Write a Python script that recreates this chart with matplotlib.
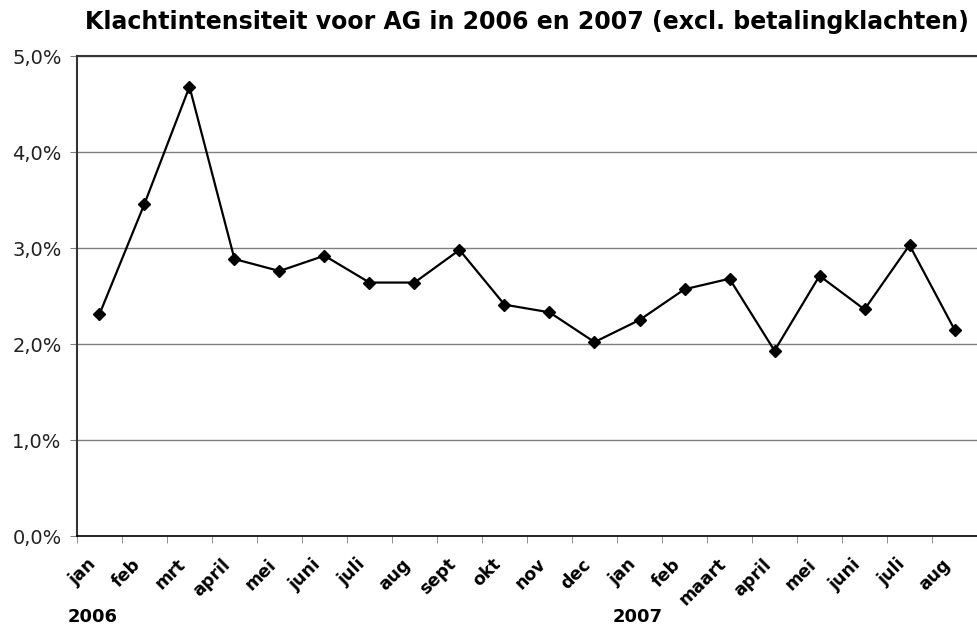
import numpy as np
import matplotlib.pyplot as plt
from matplotlib.ticker import FuncFormatter, FixedLocator

months = ['jan', 'feb', 'mrt', 'april', 'mei', 'juni', 'juli', 'aug', 'sept', 'okt', 'nov', 'dec',
          'jan', 'feb', 'maart', 'april', 'mei', 'juni', 'juli', 'aug']
intensity = [2.31, 3.46, 4.68, 2.885, 2.76, 2.92, 2.64, 2.64, 2.98, 2.41, 2.33, 2.02,
             2.25, 2.57, 2.68, 1.93, 2.71, 2.36, 3.03, 2.15]
years = ['2006', '2007']

fig = plt.figure(figsize=(9.78, 6.25), dpi=100)
ax = fig.add_axes([0.0787, 0.1424, 0.9203, 0.768])

x = np.arange(len(months))
ax.plot(x, intensity, color='black', lw=1.6, marker='D', markersize=6, zorder=3)

ax.set_xlim(-0.5, len(months) - 0.5)
ax.set_ylim(0, 5)
ax.set_yticks([0, 1, 2, 3, 4, 5])
ax.yaxis.set_major_formatter(FuncFormatter(lambda v, p: ('%.1f%%' % v).replace('.', ',')))
ax.grid(axis='y', color='#808080', lw=1)
ax.set_axisbelow(True)

ax.set_xticks(x)
ax.set_xticklabels(months, rotation=45, ha='right', va='bottom', rotation_mode='anchor',
                   fontsize=12.5, fontweight='bold')
ax.xaxis.set_minor_locator(FixedLocator(np.arange(len(months) + 1) - 0.5))
ax.tick_params(axis='x', which='major', length=0, pad=23)
ax.tick_params(axis='x', which='minor', length=5, color='#808080', direction='out')
ax.tick_params(axis='y', length=5, color='#808080', labelsize=14, pad=6, labelcolor='#222222')

ax.spines['right'].set_visible(False)
ax.spines['top'].set_color('#333333')
ax.spines['top'].set_linewidth(1.5)
ax.spines['left'].set_color('#333333')
ax.spines['left'].set_linewidth(1.5)
ax.spines['bottom'].set_color('black')
ax.spines['bottom'].set_linewidth(1.2)

fig.text(0.0695, 0.005, years[0], fontsize=13, fontweight='bold', va='baseline')
fig.text(0.626, 0.005, years[1], fontsize=13, fontweight='bold', va='baseline')

fig.text(0.539, 1 - 29 / 625, 'Klachtintensiteit voor AG in 2006 en 2007 (excl. betalingklachten)',
         ha='center', va='baseline', fontsize=17, fontweight='bold')

plt.savefig('out.png')
